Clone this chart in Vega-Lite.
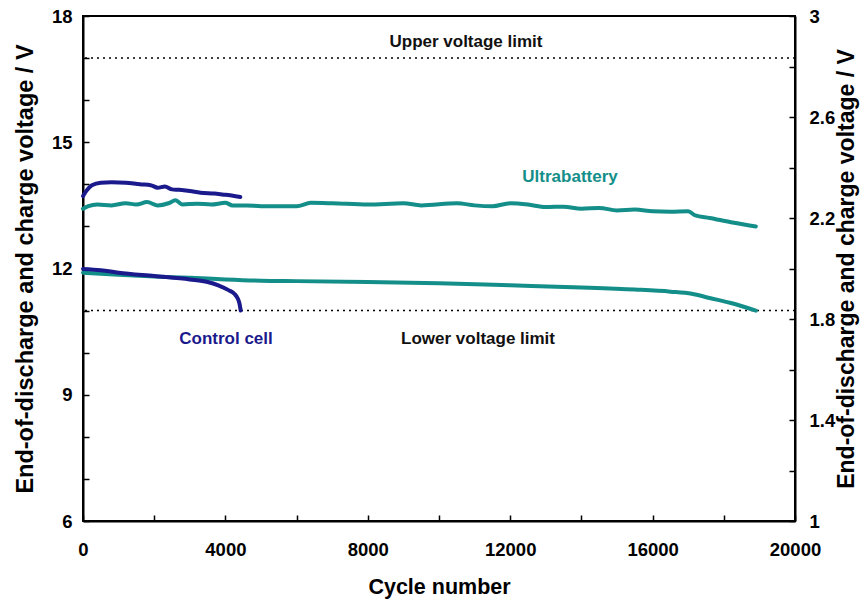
{
  "$schema": "https://vega.github.io/schema/vega-lite/v6.json",
  "width": 712,
  "height": 505,
  "autosize": {"type": "none"},
  "padding": {"left": 83, "top": 16, "right": 66, "bottom": 82},
  "background": "white",
  "config": {
    "font": "Liberation Sans",
    "view": {"stroke": "black", "strokeWidth": 2},
    "axis": {
      "domainColor": "black", "domainWidth": 2, "tickColor": "black", "tickWidth": 1.5,
      "labelFont": "Liberation Sans", "labelFontWeight": "bold", "labelFontSize": 18.5, "labelColor": "black",
      "titleFont": "Liberation Sans", "titleFontWeight": "bold", "titleFontSize": 23.5, "titleColor": "black",
      "grid": false, "labelFlush": false
    }
  },
  "datasets": {
    "curves": [
      {"series": "Control charge", "cycle": 0, "v": 13.72},
      {"series": "Control charge", "cycle": 100, "v": 13.85},
      {"series": "Control charge", "cycle": 250, "v": 13.98},
      {"series": "Control charge", "cycle": 500, "v": 14.04},
      {"series": "Control charge", "cycle": 800, "v": 14.05},
      {"series": "Control charge", "cycle": 1200, "v": 14.04},
      {"series": "Control charge", "cycle": 1600, "v": 14.0},
      {"series": "Control charge", "cycle": 1900, "v": 13.98},
      {"series": "Control charge", "cycle": 2100, "v": 13.92},
      {"series": "Control charge", "cycle": 2300, "v": 13.95},
      {"series": "Control charge", "cycle": 2500, "v": 13.88},
      {"series": "Control charge", "cycle": 2700, "v": 13.87},
      {"series": "Control charge", "cycle": 3000, "v": 13.84},
      {"series": "Control charge", "cycle": 3300, "v": 13.8},
      {"series": "Control charge", "cycle": 3700, "v": 13.78},
      {"series": "Control charge", "cycle": 4000, "v": 13.75},
      {"series": "Control charge", "cycle": 4420, "v": 13.7},
      {"series": "Ultra charge", "cycle": 0, "v": 13.42},
      {"series": "Ultra charge", "cycle": 150, "v": 13.48},
      {"series": "Ultra charge", "cycle": 400, "v": 13.52},
      {"series": "Ultra charge", "cycle": 800, "v": 13.5},
      {"series": "Ultra charge", "cycle": 1200, "v": 13.55},
      {"series": "Ultra charge", "cycle": 1500, "v": 13.52},
      {"series": "Ultra charge", "cycle": 1800, "v": 13.58},
      {"series": "Ultra charge", "cycle": 2100, "v": 13.5},
      {"series": "Ultra charge", "cycle": 2400, "v": 13.55},
      {"series": "Ultra charge", "cycle": 2600, "v": 13.62},
      {"series": "Ultra charge", "cycle": 2800, "v": 13.52},
      {"series": "Ultra charge", "cycle": 3200, "v": 13.54},
      {"series": "Ultra charge", "cycle": 3600, "v": 13.52},
      {"series": "Ultra charge", "cycle": 4000, "v": 13.56},
      {"series": "Ultra charge", "cycle": 4200, "v": 13.5},
      {"series": "Ultra charge", "cycle": 4600, "v": 13.5},
      {"series": "Ultra charge", "cycle": 5000, "v": 13.48},
      {"series": "Ultra charge", "cycle": 6000, "v": 13.48},
      {"series": "Ultra charge", "cycle": 6400, "v": 13.56},
      {"series": "Ultra charge", "cycle": 7000, "v": 13.55},
      {"series": "Ultra charge", "cycle": 8000, "v": 13.52},
      {"series": "Ultra charge", "cycle": 9000, "v": 13.55},
      {"series": "Ultra charge", "cycle": 9500, "v": 13.5},
      {"series": "Ultra charge", "cycle": 10500, "v": 13.55},
      {"series": "Ultra charge", "cycle": 11000, "v": 13.5},
      {"series": "Ultra charge", "cycle": 11500, "v": 13.48},
      {"series": "Ultra charge", "cycle": 12000, "v": 13.55},
      {"series": "Ultra charge", "cycle": 12500, "v": 13.52},
      {"series": "Ultra charge", "cycle": 13000, "v": 13.46},
      {"series": "Ultra charge", "cycle": 13500, "v": 13.47},
      {"series": "Ultra charge", "cycle": 14000, "v": 13.42},
      {"series": "Ultra charge", "cycle": 14500, "v": 13.44},
      {"series": "Ultra charge", "cycle": 15000, "v": 13.38},
      {"series": "Ultra charge", "cycle": 15500, "v": 13.4},
      {"series": "Ultra charge", "cycle": 16000, "v": 13.36},
      {"series": "Ultra charge", "cycle": 16500, "v": 13.35},
      {"series": "Ultra charge", "cycle": 17000, "v": 13.36},
      {"series": "Ultra charge", "cycle": 17200, "v": 13.26},
      {"series": "Ultra charge", "cycle": 17600, "v": 13.2},
      {"series": "Ultra charge", "cycle": 18200, "v": 13.1},
      {"series": "Ultra charge", "cycle": 18900, "v": 13.0},
      {"series": "Ultra discharge", "cycle": 0, "v": 11.9},
      {"series": "Ultra discharge", "cycle": 1000, "v": 11.85},
      {"series": "Ultra discharge", "cycle": 2000, "v": 11.81},
      {"series": "Ultra discharge", "cycle": 3000, "v": 11.78},
      {"series": "Ultra discharge", "cycle": 4000, "v": 11.74},
      {"series": "Ultra discharge", "cycle": 5000, "v": 11.71},
      {"series": "Ultra discharge", "cycle": 6000, "v": 11.7},
      {"series": "Ultra discharge", "cycle": 8000, "v": 11.68},
      {"series": "Ultra discharge", "cycle": 10000, "v": 11.65},
      {"series": "Ultra discharge", "cycle": 12000, "v": 11.6},
      {"series": "Ultra discharge", "cycle": 14000, "v": 11.55},
      {"series": "Ultra discharge", "cycle": 15500, "v": 11.5},
      {"series": "Ultra discharge", "cycle": 16500, "v": 11.45},
      {"series": "Ultra discharge", "cycle": 17100, "v": 11.4},
      {"series": "Ultra discharge", "cycle": 17600, "v": 11.3},
      {"series": "Ultra discharge", "cycle": 18200, "v": 11.18},
      {"series": "Ultra discharge", "cycle": 18900, "v": 11.0},
      {"series": "Control discharge", "cycle": 0, "v": 11.99},
      {"series": "Control discharge", "cycle": 500, "v": 11.96},
      {"series": "Control discharge", "cycle": 1000, "v": 11.9},
      {"series": "Control discharge", "cycle": 2000, "v": 11.82},
      {"series": "Control discharge", "cycle": 3000, "v": 11.74},
      {"series": "Control discharge", "cycle": 3500, "v": 11.68},
      {"series": "Control discharge", "cycle": 3800, "v": 11.6},
      {"series": "Control discharge", "cycle": 4100, "v": 11.48},
      {"series": "Control discharge", "cycle": 4250, "v": 11.4},
      {"series": "Control discharge", "cycle": 4350, "v": 11.28},
      {"series": "Control discharge", "cycle": 4400, "v": 11.15},
      {"series": "Control discharge", "cycle": 4430, "v": 11.0}
    ],
    "limits": [{"limit": 17}, {"limit": 11}],
    "labels": [
      {"text": "Upper voltage limit", "cycle": 10758, "v": 17.38, "kind": "black"},
      {"text": "Lower voltage limit", "cycle": 11096, "v": 10.32, "kind": "black"},
      {"text": "Ultrabattery", "cycle": 13680, "v": 14.17, "kind": "teal"},
      {"text": "Control cell", "cycle": 4017, "v": 10.32, "kind": "navy"}
    ],
    "cellaxis": [{"cycle": 0, "cell": 1}, {"cycle": 20000, "cell": 3}]
  },
  "layer": [
    {
      "layer": [
        {
          "data": {"name": "limits"},
          "mark": {"type": "rule", "color": "black", "strokeWidth": 1.5, "strokeDash": [2, 4]},
          "encoding": {"y": {"field": "limit", "type": "quantitative", "scale": {"domain": [6, 18], "nice": false, "zero": false}}}
        },
        {
          "data": {"name": "curves"},
          "mark": {"type": "line", "strokeWidth": 4, "strokeCap": "round", "strokeJoin": "round", "interpolate": "monotone"},
          "encoding": {
            "x": {"field": "cycle", "type": "quantitative", "scale": {"domain": [0, 20000], "nice": false, "zero": false},
              "axis": {"title": "Cycle number", "values": [0,2000,4000,6000,8000,10000,12000,14000,16000,18000,20000],
                "labelExpr": "datum.value % 4000 == 0 ? datum.label : ''", "format": "d", "tickSize": -6, "labelPadding": 25, "titlePadding": 18, "titleFontSize": 21.5}},
            "y": {"field": "v", "type": "quantitative", "scale": {"domain": [6, 18], "nice": false, "zero": false},
              "axis": {"title": "End-of-discharge and charge voltage / V", "values": [6,7,8,9,10,11,12,13,14,15,16,17,18],
                "labelExpr": "datum.value % 3 == 0 ? datum.label : ''", "tickSize": -6, "labelPadding": 17, "titlePadding": 14}},
            "detail": {"field": "series"},
            "color": {"field": "series", "type": "nominal", "legend": null,
              "scale": {"domain": ["Control charge", "Control discharge", "Ultra charge", "Ultra discharge"],
                "range": ["#1b1a8c", "#1b1a8c", "#138e89", "#138e89"]}}
          }
        },
        {
          "data": {"name": "labels"},
          "mark": {"type": "text", "font": "Liberation Sans", "fontWeight": "bold", "fontSize": 17, "align": "center", "baseline": "middle"},
          "encoding": {
            "x": {"field": "cycle", "type": "quantitative"},
            "y": {"field": "v", "type": "quantitative"},
            "text": {"field": "text"},
            "color": {"field": "kind", "type": "nominal", "legend": null,
              "scale": {"domain": ["black", "teal", "navy"], "range": ["#111111", "#138e89", "#1b1a8c"]}}
          }
        }
      ],
      "resolve": {"scale": {"color": "independent"}}
    },
    {
      "data": {"name": "cellaxis"},
      "mark": {"type": "point", "opacity": 0},
      "encoding": {
        "x": {"field": "cycle", "type": "quantitative"},
        "y": {"field": "cell", "type": "quantitative", "scale": {"domain": [1, 3], "nice": false, "zero": false},
          "axis": {"orient": "right", "title": "End-of-discharge and charge voltage / V", "titleAngle": 270, "titleFontSize": 23, "values": [1,1.2,1.4,1.6,1.8,2,2.2,2.4,2.6,2.8,3],
            "labelExpr": "round(datum.value*10) % 4 == 2 ? format(datum.value, '~g') : ''", "tickSize": -6, "labelPadding": 20, "titlePadding": 24}}
      }
    }
  ],
  "resolve": {"scale": {"y": "independent", "color": "independent"}}
}
